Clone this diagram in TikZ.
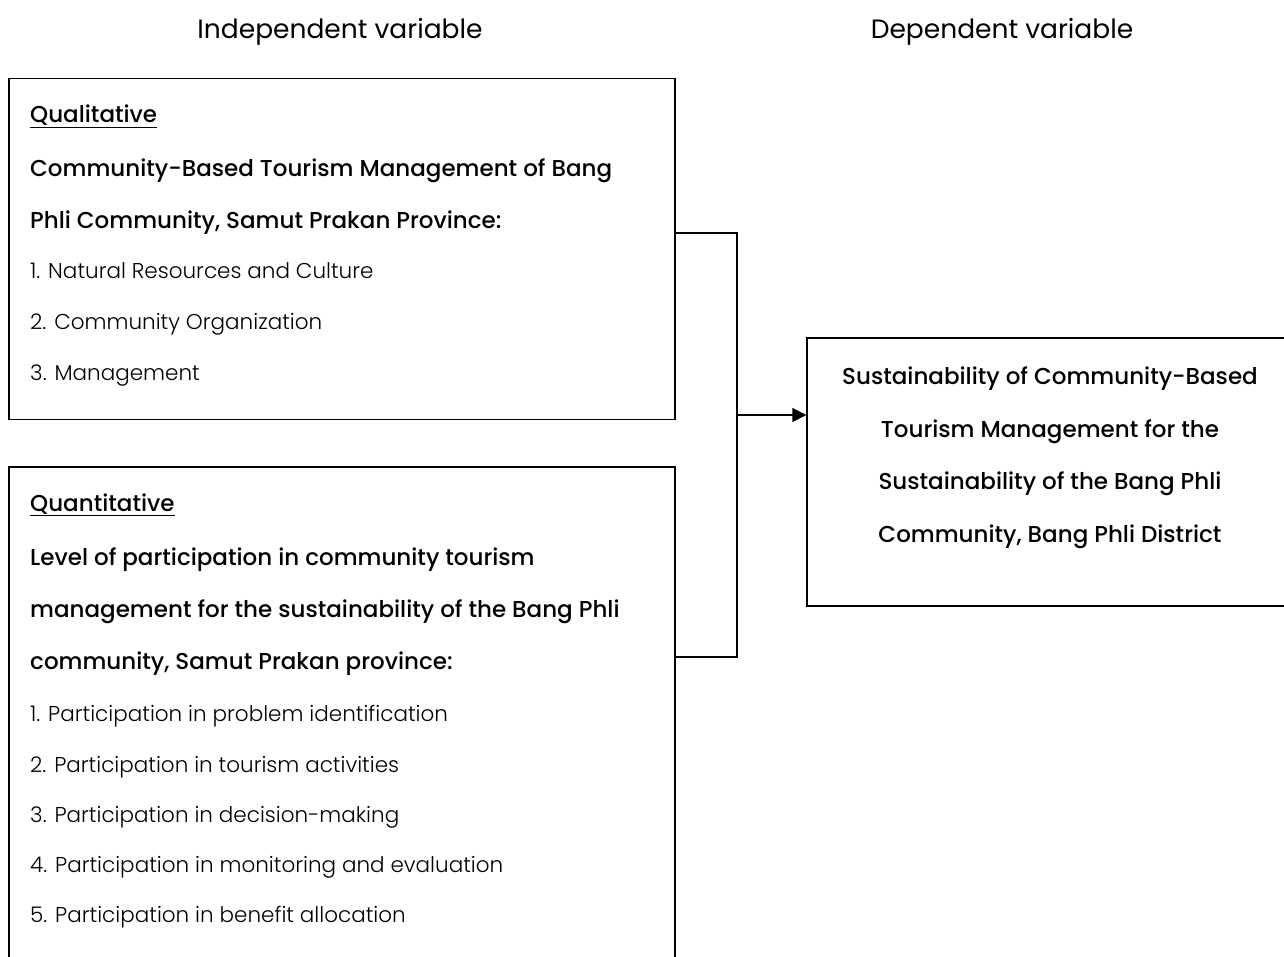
\documentclass[tikz,border=0pt]{standalone}
\usepackage{fontspec}
\setmainfont{Poppins}
\newfontfamily\lightfont{Poppins Light}
\newfontfamily\medfont{Poppins Medium}
\usetikzlibrary{arrows.meta,calc}
\begin{document}
\begin{tikzpicture}[x=1pt,y=-1pt,
  boxstyle/.style={draw,line width=1.4pt,inner sep=0pt},
  head/.style={font=\fontsize{26.5}{30}\selectfont,anchor=base},
  bold/.style={font=\medfont\fontsize{23}{27}\selectfont,anchor=base west,inner sep=0pt},
  item/.style={font=\lightfont\fontsize{21.5}{25}\selectfont,anchor=base west,inner sep=0pt},
  mid/.style={font=\medfont\fontsize{23}{27}\selectfont,anchor=base,inner sep=0pt},
  wire/.style={line width=1.4pt}]
\useasboundingbox (0,0) rectangle (1284,957);
\clip (0,0) rectangle (1284,957);

% column headings
\node[head] (hind) at (340,39) {Independent variable};
\node[head] (hdep) at (1002,39) {Dependent variable};

% boxes
\node[boxstyle,minimum width=666pt,minimum height=341pt] (qual) at (342,249) {};
\node[boxstyle,minimum width=666pt,minimum height=520pt] (quan) at (342,727) {};
\node[boxstyle,minimum width=500pt,minimum height=268pt] (res) at (1057,472) {};

% qualitative texts
\node[bold] (q0) at (30,123) {\underline{Qualitative}};
\node[bold] (q1) at (30,177) {Community-Based Tourism Management of Bang};
\node[bold] (q2) at (30,229) {Phli Community, Samut Prakan Province:};
\node[item] (q3) at (30,279) {1. Natural Resources and Culture};
\node[item] (q4) at (30,330) {2. Community Organization};
\node[item] (q5) at (30,380) {3. Management};

% quantitative texts
\node[bold] (p0) at (30,511) {\underline{Quantitative}};
\node[bold] (p1) at (30,565) {Level of participation in community tourism};
\node[bold] (p2) at (30,617) {management for the sustainability of the Bang Phli};
\node[bold] (p3) at (30,669) {community, Samut Prakan province:};
\node[item] (p4) at (30,721) {1. Participation in problem identification};
\node[item] (p5) at (30,772) {2. Participation in tourism activities};
\node[item] (p6) at (30,822) {3. Participation in decision-making};
\node[item] (p7) at (30,872) {4. Participation in monitoring and evaluation};
\node[item] (p8) at (30,922) {5. Participation in benefit allocation};

% dependent variable texts
\node[mid] (r1) at (1050,384) {Sustainability of Community-Based};
\node[mid] (r2) at (1050,437) {Tourism Management for the};
\node[mid] (r3) at (1050,489) {Sustainability of the Bang Phli};
\node[mid] (r4) at (1050,542) {Community, Bang Phli District};

% connectors
\coordinate (jtop) at (737,233);
\coordinate (jbot) at (737,657);
\coordinate (jmid) at (737,415);
\draw[wire] (qual.east |- jtop) -- (jtop) -- (jbot) -- (quan.east |- jbot);
\draw[wire,-{Triangle[length=14pt,width=14pt]}] (jmid) -- (res.west |- jmid);
\end{tikzpicture}
\end{document}
